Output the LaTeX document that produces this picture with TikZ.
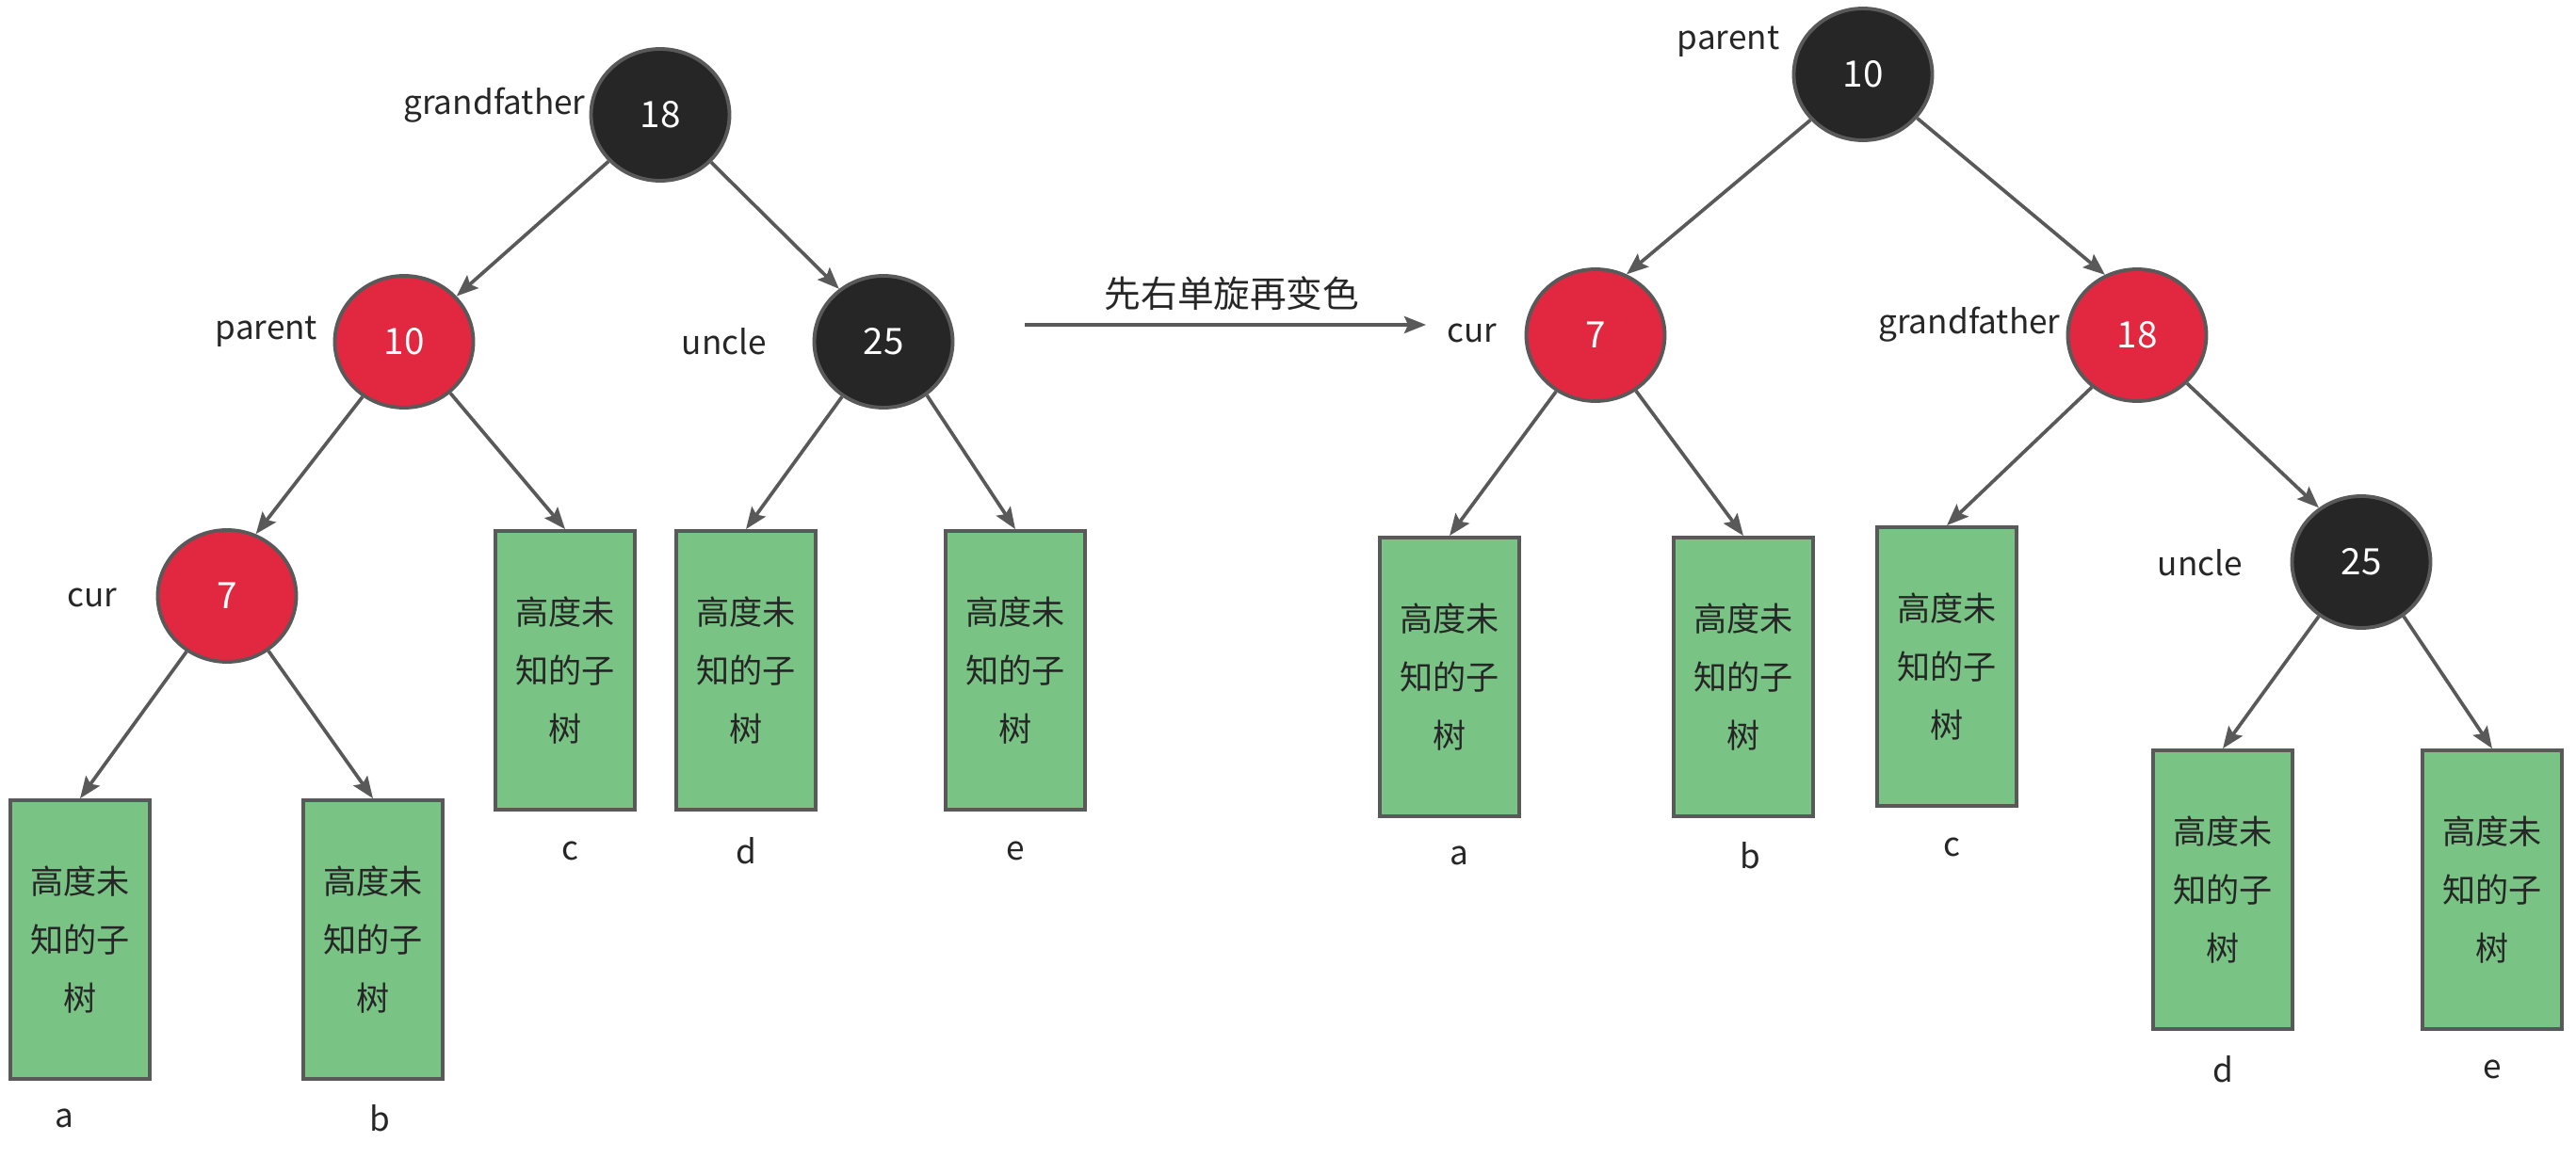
\documentclass[tikz,border=0pt]{standalone}
\usepackage{fontspec}
\setmainfont{Noto Sans CJK SC}
\usepackage{xcolor}
\usepackage{tikz}
\usetikzlibrary{positioning, arrows.meta, shapes.geometric}
\definecolor{rbblack}{RGB}{38, 38, 38}
\definecolor{rbred}{RGB}{225, 40, 64}
\definecolor{subgreen}{RGB}{121, 195, 133}
\definecolor{linegray}{RGB}{89, 89, 89}
\definecolor{tagtext}{RGB}{38, 38, 38}

\tikzset{
  rbnode/.style={ellipse, draw=linegray, line width=1.1pt, minimum width=1.47cm, minimum height=1.40cm, inner sep=0pt, text=white, font=\fontsize{11pt}{13pt}\selectfont},
  blacknode/.style={rbnode, fill=rbblack},
  rednode/.style={rbnode, fill=rbred},
  subtree/.style={rectangle, draw=linegray, line width=1.1pt, fill=subgreen, minimum width=1.48cm, minimum height=2.96cm, inner sep=0pt, align=center, text=tagtext, font=\fontsize{10pt}{17.6pt}\selectfont},
  tag/.style={text=tagtext, font=\fontsize{10pt}{12pt}\selectfont},
  edge/.style={draw=linegray, line width=1.05pt, -{Stealth[length=0.23cm, width=0.18cm, inset=0.04cm]}}
}

\begin{document}
\begin{tikzpicture}
\useasboundingbox (0,0) rectangle (27.35,-12.3);
\node[blacknode] (lgf) at (7.01,-1.22) {18};
\node[rednode] (lpa) at (4.29,-3.63) {10};
\node[blacknode] (lun) at (9.38,-3.63) {25};
\node[rednode] (lcur) at (2.41,-6.33) {7};
\node[subtree] (la) at (0.85,-9.98) {高度未\\知的子\\树};
\node[subtree] (lb) at (3.96,-9.98) {高度未\\知的子\\树};
\node[subtree] (lc) at (6.00,-7.12) {高度未\\知的子\\树};
\node[subtree] (ld) at (7.92,-7.12) {高度未\\知的子\\树};
\node[subtree] (le) at (10.78,-7.12) {高度未\\知的子\\树};
\node[tag] at (5.25,-1.12) {grandfather};
\node[tag] at (2.83,-3.52) {parent};
\node[tag] at (7.69,-3.63) {uncle};
\node[tag] at (0.98,-6.35) {cur};
\node[tag] at (0.68,-11.88) {a};
\node[tag] at (4.03,-11.88) {b};
\node[tag] at (6.05,-9.04) {c};
\node[tag] at (7.92,-9.04) {d};
\node[tag] at (10.78,-9.04) {e};
\draw[edge] (lgf.222) -- (lpa.41);
\draw[edge] (lgf.317) -- (lun.130);
\draw[edge] (lpa.233) -- (lcur.65);
\draw[edge] (lpa.312) -- (lc.north);
\draw[edge] (lun.233) -- (ld.north);
\draw[edge] (lun.309) -- (le.north);
\draw[edge] (lcur.234) -- (la.north);
\draw[edge] (lcur.307) -- (lb.north);

\coordinate (from) at (10.88,-3.45);
\coordinate (to) at (15.14,-3.45);
\draw[edge] (from) -- (to);
\node[tag, font=\fontsize{11pt}{13pt}\selectfont] (turn) at (13.08,-3.12) {先右单旋再变色};

\node[blacknode] (rpa) at (19.78,-0.79) {10};
\node[rednode] (rcur) at (16.94,-3.56) {7};
\node[rednode] (rgf) at (22.69,-3.56) {18};
\node[blacknode] (run) at (25.07,-5.97) {25};
\node[subtree] (ra) at (15.39,-7.19) {高度未\\知的子\\树};
\node[subtree] (rb) at (18.51,-7.19) {高度未\\知的子\\树};
\node[subtree] (rc) at (20.67,-7.08) {高度未\\知的子\\树};
\node[subtree] (rd) at (23.60,-9.45) {高度未\\知的子\\树};
\node[subtree] (re) at (26.46,-9.45) {高度未\\知的子\\树};
\node[tag] at (18.35,-0.44) {parent};
\node[tag] at (15.63,-3.54) {cur};
\node[tag] at (20.91,-3.45) {grandfather};
\node[tag] at (23.36,-5.98) {uncle};
\node[tag] at (15.49,-9.09) {a};
\node[tag] at (18.58,-9.09) {b};
\node[tag] at (20.72,-9.00) {c};
\node[tag] at (23.60,-11.36) {d};
\node[tag] at (26.46,-11.36) {e};
\draw[edge] (rpa.221) -- (rcur.63);
\draw[edge] (rpa.321) -- (rgf.118);
\draw[edge] (rcur.235) -- (ra.north);
\draw[edge] (rcur.306) -- (rb.north);
\draw[edge] (rgf.229) -- (rc.north);
\draw[edge] (rgf.316) -- (run.128);
\draw[edge] (run.232) -- (rd.north);
\draw[edge] (run.308) -- (re.north);
\end{tikzpicture}
\end{document}
